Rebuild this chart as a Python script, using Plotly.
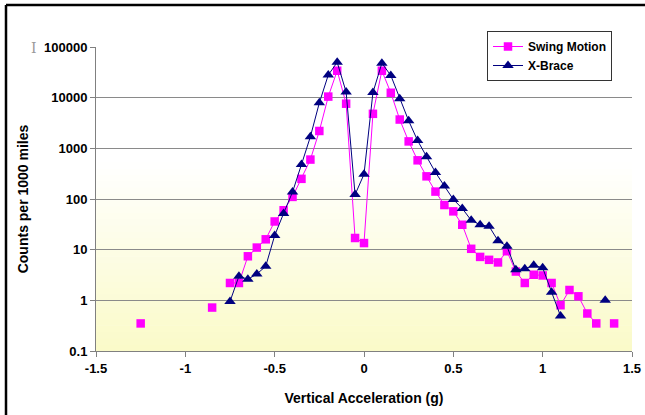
import plotly.graph_objects as go

# ---- data ----
accel = [-1.25, -1.2, -1.15, -1.1, -1.05, -1.0, -0.95, -0.9, -0.85, -0.8,
         -0.75, -0.7, -0.65, -0.6, -0.55, -0.5, -0.45, -0.4, -0.35, -0.3,
         -0.25, -0.2, -0.15, -0.1, -0.05, 0.0, 0.05, 0.1, 0.15, 0.2,
         0.25, 0.3, 0.35, 0.4, 0.45, 0.5, 0.55, 0.6, 0.65, 0.7,
         0.75, 0.8, 0.85, 0.9, 0.95, 1.0, 1.05, 1.1, 1.15, 1.2,
         1.25, 1.3, 1.35, 1.4]

swing_motion = [0.35, None, None, None, None, None, None, None, 0.72, None,
                2.2, 2.2, 7.4, 11, 16, 36, 60, 110, 250, 600,
                2200, 10500, 34000, 7600, 17, 13.5, 4800, 34000, 12500, 3700,
                1370, 580, 280, 140, 76, 57, 31, 10.4, 7.2, 6.3,
                5.6, 9.3, 3.7, 2.2, 3.2, 3.1, 2.2, 0.8, 1.6, 1.2,
                0.55, 0.35, None, 0.35]

x_brace = [None, None, None, None, None, None, None, None, None, None,
           0.95, 3.0, 2.6, 3.3, 4.7, 19, 52, 137, 480, 1700,
           7900, 28000, 50000, 12900, 122, 308, 12600, 48000, 27500, 9500,
           3500, 1420, 680, 335, 180, 98, 65, 38, 31, 29,
           15, 11.7, 4.0, 4.2, 4.9, 4.4, 1.45, 0.49, None, None,
           None, None, 1.0, None]

y_tick_vals = [0.1, 1, 10, 100, 1000, 10000, 100000]
y_tick_text = ["0.1", "1", "10", "100", "1000", "10000", "100000"]
x_tick_vals = [-1.5, -1, -0.5, 0, 0.5, 1, 1.5]
x_tick_text = ["-1.5", "-1", "-0.5", "0", "0.5", "1", "1.5"]

FONT = "Liberation Sans, Arial, sans-serif"

fig = go.Figure()
fig.add_trace(go.Scatter(
    x=accel, y=swing_motion, name="Swing Motion", mode="lines+markers",
    line=dict(color="#FF00FF", width=1),
    marker=dict(symbol="square", size=8.5, color="#FF00FF"),
    connectgaps=False,
))
fig.add_trace(go.Scatter(
    x=accel, y=x_brace, name="X-Brace", mode="lines+markers",
    line=dict(color="#000080", width=1),
    marker=dict(symbol="triangle-up", size=10, color="#000080"),
    connectgaps=False,
))

# background gradient (white top -> pale yellow bottom)
shapes = []
n = 30
top_frac = 0.62
for i in range(n):
    y0 = top_frac * i / n
    y1 = top_frac * (i + 1) / n
    t = (i + 0.5) / n  # 0 bottom -> 1 top
    r = round(250 + 5 * t)
    g = round(250 + 5 * t)
    b = round(200 + 55 * t)
    shapes.append(dict(type="rect", xref="x domain", yref="y domain",
                       x0=0, x1=1, y0=y0, y1=y1 + 0.002, layer="below",
                       line=dict(width=0), fillcolor=f"rgb({r},{g},{b})"))

# outer black frame: top and left edges (pixel positions converted to paper)
PLOT_L, PLOT_R, PLOT_T, PLOT_B = 96, 632, 47, 351
def px_x(p):
    return (p - PLOT_L) / (PLOT_R - PLOT_L)
def px_y(p):
    return (PLOT_B - p) / (PLOT_B - PLOT_T)
shapes.append(dict(type="line", xref="paper", yref="paper",
                   x0=px_x(6), x1=px_x(700), y0=px_y(5), y1=px_y(5),
                   line=dict(color="black", width=2.5), layer="above"))
shapes.append(dict(type="line", xref="paper", yref="paper",
                   x0=px_x(6), x1=px_x(6), y0=px_y(5), y1=px_y(450),
                   line=dict(color="black", width=2.5), layer="above"))

fig.update_layout(
    width=645, height=415,
    margin=dict(l=PLOT_L, r=645 - PLOT_R, t=PLOT_T, b=415 - PLOT_B, autoexpand=False),
    paper_bgcolor="white", plot_bgcolor="white",
    font=dict(family=FONT, size=13, color="black"),
    shapes=shapes,
    showlegend=True,
    legend=dict(
        x=px_x(487), y=px_y(31), xanchor="left", yanchor="top",
        bgcolor="white", bordercolor="#333333", borderwidth=1,
        font=dict(family=FONT, size=12, color="black", weight="bold"),
        itemwidth=30, tracegroupgap=0,
    ),
    annotations=[dict(text="I", x=px_x(29), y=px_y(38), xref="paper", yref="paper",
                      showarrow=False,
                      font=dict(family="DejaVu Serif", size=14, color="#999999"))],
)

fig.update_xaxes(
    range=[-1.5, 1.5], tickvals=x_tick_vals, ticktext=x_tick_text,
    showgrid=False, zeroline=False, automargin=False,
    showline=True, linecolor="#808080", linewidth=1,
    ticks="outside", ticklen=5, tickcolor="#808080",
    tickfont=dict(family=FONT, size=13, color="black", weight="bold"),
    title=dict(text="Vertical Acceleration (g)", standoff=18,
               font=dict(family=FONT, size=14, color="black", weight="bold")),
)
fig.update_yaxes(
    type="log", range=[-1, 5], tickvals=y_tick_vals, ticktext=y_tick_text,
    showgrid=True, gridcolor="#8a8a8a", gridwidth=1.3,
    zeroline=False, automargin=False,
    showline=True, linecolor="#808080", linewidth=1,
    ticks="outside", ticklen=5, tickcolor="#808080",
    tickfont=dict(family=FONT, size=13, color="black", weight="bold"),
    title=dict(text="Counts per 1000 miles", standoff=12,
               font=dict(family=FONT, size=14, color="black", weight="bold")),
)

fig.write_html("out.html", config={"displayModeBar": False},
               post_script="document.body.style.margin='0';document.body.style.padding='0';")
